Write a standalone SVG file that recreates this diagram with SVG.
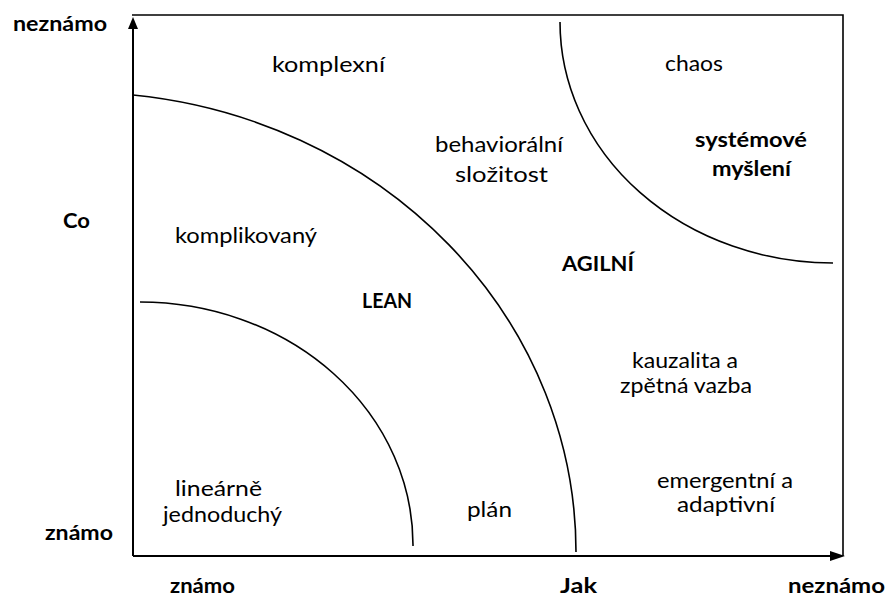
<svg xmlns="http://www.w3.org/2000/svg" width="887" height="606" viewBox="0 0 887 606">
<style>
  .ax { stroke:#000; stroke-width:2; fill:none; }
  .fr { stroke:#000; stroke-width:1.6; fill:none; }
  .cv { stroke:#000; stroke-width:1.6; fill:none; }
  .t { font-family:Lato, "Liberation Sans", sans-serif; font-size:21px; fill:#000; text-anchor:middle; }
  .b { font-family:Lato, "Liberation Sans", sans-serif; font-size:20px; font-weight:bold; fill:#000; text-anchor:middle; }
  .ah { fill:#000; stroke:none; }
</style>
<rect width="887" height="606" fill="#fff"/>
<g id="connectors">
  <path class="fr" d="M132,15 H843 V556"/>
  <path class="ax" d="M133,556 V26"/>
  <polygon class="ah" points="133,17 128,29 138,29"/>
  <path class="ax" d="M133,556 H834"/>
  <polygon class="ah" points="845,556 830,551 830,561"/>
  <path class="cv" d="M133,95 A496,459.6 0 0 1 576,552"/>
  <path class="cv" d="M140,302 A273,243 0 0 1 413,546"/>
  <path class="cv" d="M560,22 A273,241 0 0 0 833,263"/>
</g>
<g id="axis-labels">
  <text class="b" x="60" y="31" textLength="94" lengthAdjust="spacingAndGlyphs">neznámo</text>
  <text class="b" x="76.5" y="228" textLength="27" lengthAdjust="spacingAndGlyphs">Co</text>
  <text class="b" x="79" y="540" textLength="68" lengthAdjust="spacingAndGlyphs">známo</text>
  <text class="b" x="202.5" y="593" textLength="65" lengthAdjust="spacingAndGlyphs">známo</text>
  <text class="b" x="578.5" y="593" textLength="37" lengthAdjust="spacingAndGlyphs">Jak</text>
  <text class="b" x="836.5" y="593" textLength="97" lengthAdjust="spacingAndGlyphs">neznámo</text>
</g>
<g id="node-komplexni"><text class="t" x="328.5" y="72" textLength="113" lengthAdjust="spacingAndGlyphs">komplexní</text></g>
<g id="node-chaos"><text class="t" x="694" y="71" textLength="58" lengthAdjust="spacingAndGlyphs">chaos</text></g>
<g id="node-systemove">
  <text class="b" x="751" y="147" textLength="112" lengthAdjust="spacingAndGlyphs">systémové</text>
  <text class="b" x="751.5" y="176" textLength="79" lengthAdjust="spacingAndGlyphs">myšlení</text>
</g>
<g id="node-behavioralni">
  <text class="t" x="499" y="152" textLength="128" lengthAdjust="spacingAndGlyphs">behaviorální</text>
  <text class="t" x="501.5" y="182" textLength="93" lengthAdjust="spacingAndGlyphs">složitost</text>
</g>
<g id="node-agilni"><text class="b" x="598" y="271" textLength="72" lengthAdjust="spacingAndGlyphs">AGILNÍ</text></g>
<g id="node-komplikovany"><text class="t" x="246" y="243" textLength="142" lengthAdjust="spacingAndGlyphs">komplikovaný</text></g>
<g id="node-lean"><text class="b" x="387" y="308" textLength="50" lengthAdjust="spacingAndGlyphs">LEAN</text></g>
<g id="node-linearne">
  <text class="t" x="218.5" y="496" textLength="87" lengthAdjust="spacingAndGlyphs">lineárně</text>
  <text class="t" x="222.5" y="522" textLength="119" lengthAdjust="spacingAndGlyphs">jednoduchý</text>
</g>
<g id="node-plan"><text class="t" x="489.5" y="517" textLength="45" lengthAdjust="spacingAndGlyphs">plán</text></g>
<g id="node-kauzalita">
  <text class="t" x="685" y="368" textLength="106" lengthAdjust="spacingAndGlyphs">kauzalita a</text>
  <text class="t" x="686" y="393" textLength="132" lengthAdjust="spacingAndGlyphs">zpětná vazba</text>
</g>
<g id="node-emergentni">
  <text class="t" x="725" y="488" textLength="136" lengthAdjust="spacingAndGlyphs">emergentní a</text>
  <text class="t" x="726" y="512" textLength="98" lengthAdjust="spacingAndGlyphs">adaptivní</text>
</g>
</svg>
